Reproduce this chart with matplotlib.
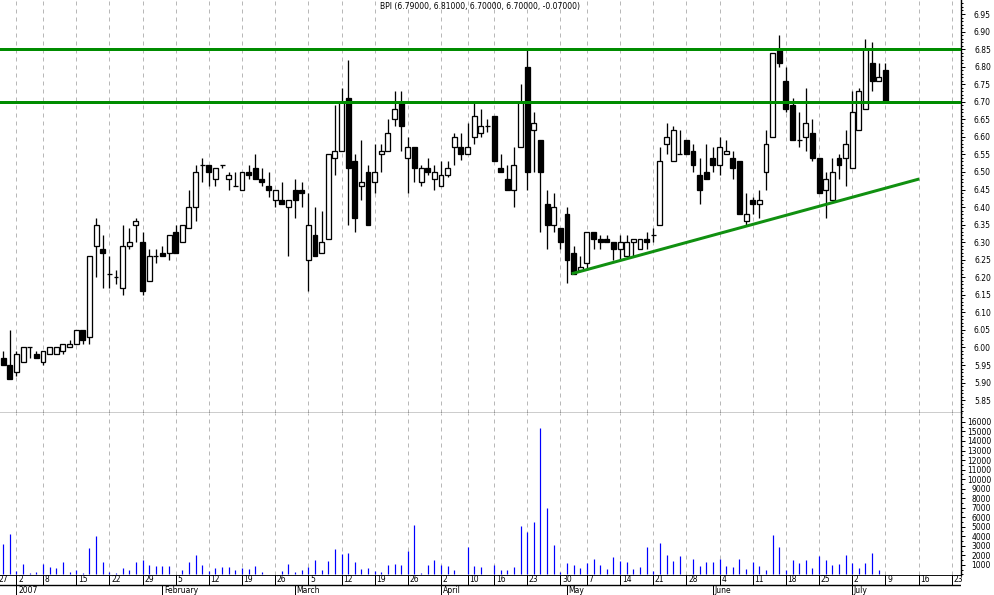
import matplotlib
matplotlib.use("Agg")
import matplotlib.pyplot as plt
from matplotlib.patches import Rectangle
from matplotlib.ticker import MultipleLocator, FixedLocator
import pandas as pd

# ---------------- data ----------------
title = "BPI (6.79000, 6.81000, 6.70000, 6.70000, -0.07000)"
holidays = ["2007-01-01", "2007-04-06", "2007-04-09", "2007-05-01"]
first_day, last_day = "2006-12-28", "2007-07-09"

opens = [5.97, 5.95, 5.93, 5.96, 6.00, 5.98, 5.96, 5.98, 5.98, 5.99, 6.00, 6.01, 6.05, 6.03, 6.29,
         6.28, 6.21, 6.20, 6.17, 6.29, 6.35, 6.30, 6.19, 6.26, 6.27, 6.27, 6.33, 6.30, 6.34, 6.40,
         6.52, 6.52, 6.48, 6.52, 6.48, 6.46, 6.45, 6.50, 6.51, 6.48, 6.46, 6.42, 6.42, 6.40, 6.45,
         6.45, 6.25, 6.32, 6.27, 6.31, 6.54, 6.56, 6.71, 6.53, 6.46, 6.50, 6.47, 6.55, 6.56, 6.65,
         6.70, 6.54, 6.57, 6.47, 6.51, 6.48, 6.46, 6.49, 6.57, 6.57, 6.55, 6.60, 6.61, 6.63, 6.66,
         6.51, 6.48, 6.45, 6.57, 6.80, 6.62, 6.59, 6.41, 6.35, 6.34, 6.38, 6.27, 6.22, 6.24, 6.33,
         6.31, 6.31, 6.30, 6.28, 6.26, 6.30, 6.28, 6.31, 6.32, 6.35, 6.58, 6.53, 6.55, 6.59, 6.56,
         6.49, 6.50, 6.54, 6.52, 6.55, 6.54, 6.53, 6.36, 6.42, 6.41, 6.50, 6.60, 6.85, 6.76, 6.69,
         6.59, 6.60, 6.61, 6.54, 6.45, 6.42, 6.54, 6.54, 6.51, 6.62, 6.68, 6.81, 6.76, 6.79]
highs = [5.99, 6.05, 5.99, 6.00, 6.00, 5.99, 5.99, 6.00, 6.00, 6.01, 6.02, 6.05, 6.05, 6.26, 6.37,
         6.32, 6.26, 6.22, 6.35, 6.34, 6.37, 6.33, 6.28, 6.28, 6.29, 6.32, 6.35, 6.35, 6.45, 6.52,
         6.54, 6.52, 6.51, 6.52, 6.50, 6.50, 6.50, 6.52, 6.55, 6.51, 6.50, 6.45, 6.47, 6.42, 6.48,
         6.47, 6.44, 6.40, 6.39, 6.55, 6.69, 6.74, 6.82, 6.55, 6.59, 6.52, 6.58, 6.58, 6.65, 6.73,
         6.73, 6.60, 6.57, 6.52, 6.54, 6.52, 6.53, 6.53, 6.61, 6.61, 6.64, 6.70, 6.68, 6.65, 6.66,
         6.55, 6.52, 6.57, 6.75, 6.85, 6.67, 6.59, 6.45, 6.44, 6.34, 6.40, 6.29, 6.26, 6.33, 6.33,
         6.32, 6.32, 6.30, 6.32, 6.32, 6.31, 6.31, 6.33, 6.34, 6.57, 6.64, 6.63, 6.62, 6.59, 6.58,
         6.54, 6.58, 6.57, 6.60, 6.59, 6.56, 6.53, 6.44, 6.43, 6.45, 6.62, 6.84, 6.89, 6.80, 6.71,
         6.67, 6.74, 6.65, 6.54, 6.50, 6.54, 6.55, 6.62, 6.73, 6.74, 6.88, 6.87, 6.81, 6.81]
lows = [5.95, 5.91, 5.92, 5.96, 5.97, 5.97, 5.95, 5.98, 5.98, 5.98, 6.00, 6.01, 6.01, 6.01, 6.20,
        6.17, 6.17, 6.18, 6.15, 6.28, 6.30, 6.15, 6.19, 6.24, 6.26, 6.25, 6.27, 6.30, 6.34, 6.36,
        6.47, 6.46, 6.46, 6.51, 6.45, 6.46, 6.45, 6.48, 6.48, 6.46, 6.43, 6.40, 6.41, 6.26, 6.37,
        6.40, 6.16, 6.26, 6.27, 6.31, 6.49, 6.56, 6.35, 6.33, 6.42, 6.35, 6.44, 6.50, 6.56, 6.63,
        6.56, 6.44, 6.47, 6.46, 6.49, 6.45, 6.46, 6.485, 6.52, 6.535, 6.55, 6.58, 6.60, 6.615, 6.53,
        6.50, 6.45, 6.40, 6.57, 6.45, 6.50, 6.33, 6.28, 6.33, 6.28, 6.185, 6.21, 6.22, 6.22, 6.28,
        6.28, 6.30, 6.25, 6.25, 6.26, 6.26, 6.28, 6.28, 6.30, 6.35, 6.55, 6.53, 6.55, 6.55, 6.50,
        6.41, 6.48, 6.50, 6.49, 6.55, 6.48, 6.38, 6.35, 6.38, 6.37, 6.45, 6.60, 6.80, 6.67, 6.59,
        6.57, 6.56, 6.53, 6.44, 6.37, 6.42, 6.48, 6.46, 6.51, 6.62, 6.68, 6.73, 6.76, 6.70]
closes = [5.95, 5.91, 5.98, 6.00, 6.00, 5.97, 5.99, 6.00, 6.00, 6.01, 6.01, 6.05, 6.02, 6.26, 6.35,
          6.27, 6.21, 6.20, 6.29, 6.30, 6.36, 6.16, 6.26, 6.26, 6.26, 6.32, 6.27, 6.35, 6.40, 6.50,
          6.52, 6.50, 6.51, 6.52, 6.49, 6.46, 6.50, 6.49, 6.48, 6.47, 6.45, 6.45, 6.41, 6.42, 6.42,
          6.44, 6.35, 6.26, 6.30, 6.55, 6.56, 6.70, 6.51, 6.37, 6.47, 6.35, 6.50, 6.56, 6.61, 6.68,
          6.63, 6.57, 6.51, 6.51, 6.50, 6.50, 6.49, 6.51, 6.60, 6.55, 6.57, 6.66, 6.63, 6.63, 6.53,
          6.50, 6.45, 6.52, 6.70, 6.50, 6.64, 6.50, 6.35, 6.40, 6.30, 6.25, 6.21, 6.23, 6.33, 6.31,
          6.30, 6.30, 6.28, 6.30, 6.30, 6.31, 6.31, 6.30, 6.32, 6.53, 6.60, 6.62, 6.55, 6.55, 6.52,
          6.45, 6.48, 6.52, 6.57, 6.56, 6.51, 6.38, 6.38, 6.41, 6.42, 6.58, 6.84, 6.81, 6.68, 6.59,
          6.59, 6.64, 6.54, 6.44, 6.48, 6.50, 6.52, 6.58, 6.67, 6.73, 6.85, 6.76, 6.77, 6.70]
volumes = [3180, 4230, 350, 1080, 100, 240, 1080, 770, 660, 1290, 240, 450, 140, 2760, 4020,
           1290, 240, 140, 660, 450, 1290, 1500, 980, 870, 870, 870, 70, 450, 1290, 2000,
           980, 350, 660, 770, 770, 450, 660, 560, 870, 240, 70, 50, 350, 1080, 240,
           450, 770, 1500, 450, 1400, 2660, 2140, 2240, 1290, 560, 660, 350, 240, 980, 1080,
           980, 2450, 5180, 100, 980, 1500, 980, 870, 450, 70, 2870, 870, 770, 70, 980,
           420, 420, 770, 5070, 4440, 5490, 15370, 6960, 3080, 240, 1190, 980, 660, 1190, 1610,
           980, 560, 1820, 1400, 1290, 560, 770, 2870, 350, 3290, 2030, 1400, 1920, 50, 1610,
           870, 1290, 1290, 1610, 870, 770, 1610, 560, 1290, 870, 450, 4130, 2870, 450, 1500,
           1190, 1500, 660, 1920, 1500, 980, 1080, 2030, 1190, 660, 1190, 2240, 450, 70]

resistance_levels = [6.85, 6.70]
trend_dates = ["2007-05-02", "2007-07-16"]
trend_offsets = [0.7, 0.1]           # fraction of a trading day past the date
trend_prices = [6.21, 6.48]

week_dates = ["2006-12-27", "2007-01-02", "2007-01-08", "2007-01-15", "2007-01-22", "2007-01-29",
              "2007-02-05", "2007-02-12", "2007-02-19", "2007-02-26", "2007-03-05", "2007-03-12",
              "2007-03-19", "2007-03-26", "2007-04-02", "2007-04-10", "2007-04-16", "2007-04-23",
              "2007-04-30", "2007-05-07", "2007-05-14", "2007-05-21", "2007-05-28", "2007-06-04",
              "2007-06-11", "2007-06-18", "2007-06-25", "2007-07-02", "2007-07-09", "2007-07-16",
              "2007-07-23"]
month_dates = ["2007-01-02", "2007-02-01", "2007-03-01", "2007-04-02", "2007-05-02", "2007-06-01",
               "2007-07-02"]
month_labels = ["2007", "February", "March", "April", "May", "June", "July"]

# ---------------- trading calendar (x = trading-day index) ----------------
tdays = [d.strftime("%Y-%m-%d") for d in pd.bdate_range("2006-12-27", "2007-07-31")
         if d.strftime("%Y-%m-%d") not in holidays]
pos = {d: k for k, d in enumerate(tdays)}
candle_x = list(range(pos[first_day], pos[last_day] + 1))
assert len(candle_x) == len(opens) == len(volumes)

# ---------------- figure ----------------
W, H = 994, 595
fig = plt.figure(figsize=(W / 100, H / 100), dpi=100)
plt.rcParams["font.family"] = ["DejaVu Sans"]
FS = 5.5
PX = 0.72  # one pixel in points

x_left, x_right = 0.513, 145.4
ax_p = fig.add_axes([0, 1 - 413 / H, 961 / W, 413 / H])
ax_v = fig.add_axes([0, 1 - 575 / H, 961 / W, 162 / H])
ax_d = fig.add_axes([0, 0, 961 / W, 20 / H])

grid_kw = dict(color="#b8b8b8", lw=PX, ls=(0, (4, 4)), zorder=0)
for ax in (ax_p, ax_v):
    ax.set_xlim(x_left, x_right)
    for d in week_dates:
        ax.axvline(pos[d], **grid_kw)
    ax.set_xticks([])
    for s in ("left", "top"):
        ax.spines[s].set_visible(False)
    ax.spines["right"].set_linewidth(1.0)
    ax.spines["bottom"].set_linewidth(1.0)
    ax.yaxis.tick_right()
    ax.tick_params(axis="y", which="major", direction="out", length=4 * PX, width=PX,
                   labelsize=FS, pad=26 * PX)
    ax.tick_params(axis="y", which="minor", direction="out", length=2 * PX, width=PX)
    ax.set_facecolor("white")

# price panel
ax_p.set_ylim(5.8133, 6.9899)
ax_p.yaxis.set_major_locator(FixedLocator([5.85 + 0.05 * k for k in range(23)]))
ax_p.yaxis.set_minor_locator(MultipleLocator(0.01))
ax_p.set_yticklabels([f"{5.85 + 0.05 * k:.2f}" for k in range(23)], ha="right")

bw = 0.74
for x, o, h, l, c in zip(candle_x, opens, highs, lows, closes):
    ax_p.vlines(x, l, h, color="black", lw=1.3 * PX, zorder=2)
    up = c >= o
    ax_p.add_patch(Rectangle((x - bw / 2, min(o, c)), bw, abs(c - o),
                             facecolor="white" if up else "black",
                             edgecolor="black", lw=1.3 * PX, zorder=3))

for lvl in resistance_levels:
    ax_p.axhline(lvl, color="#008c00", lw=3.0 * PX, zorder=4)
trend_x = [pos[d] + f for d, f in zip(trend_dates, trend_offsets)]
ax_p.plot(trend_x, trend_prices, color="#109010", lw=3.0 * PX, zorder=4,
          solid_capstyle="butt")

fig.text(480 / W, 1 - 7 / H, title, ha="center", va="center", fontsize=FS)

# volume panel
ax_v.set_ylim(-70, 16940)
vt = list(range(1000, 16001, 1000))
ax_v.yaxis.set_major_locator(FixedLocator(vt))
ax_v.yaxis.set_minor_locator(MultipleLocator(500))
ax_v.set_yticklabels([str(v) for v in vt], ha="right")
ax_v.vlines(candle_x, 0, volumes, color="#0000ff", lw=1.2 * PX, zorder=2)
ax_v.spines["bottom"].set_visible(False)

# date axis
ax_d.set_xlim(x_left, x_right)
ax_d.set_ylim(0, 20)
ax_d.axis("off")
ax_d.axhline(20, color="black", lw=1.3)
ax_d.axhline(10, color="black", lw=1.0)
for d in week_dates:
    x = pos[d]
    ax_d.plot([x, x], [10, 20], color="black", lw=PX)
    ax_d.text(x + 0.25, 15, str(int(d[-2:])), fontsize=FS, ha="left", va="center",
              clip_on=False)
for d, lab in zip(month_dates, month_labels):
    x = pos[d]
    ax_d.plot([x, x], [0, 10], color="black", lw=PX)
    ax_d.text(x + 0.25, 4.5, lab, fontsize=FS, ha="left", va="center", clip_on=False)

fig.savefig("out.png", dpi=100)
